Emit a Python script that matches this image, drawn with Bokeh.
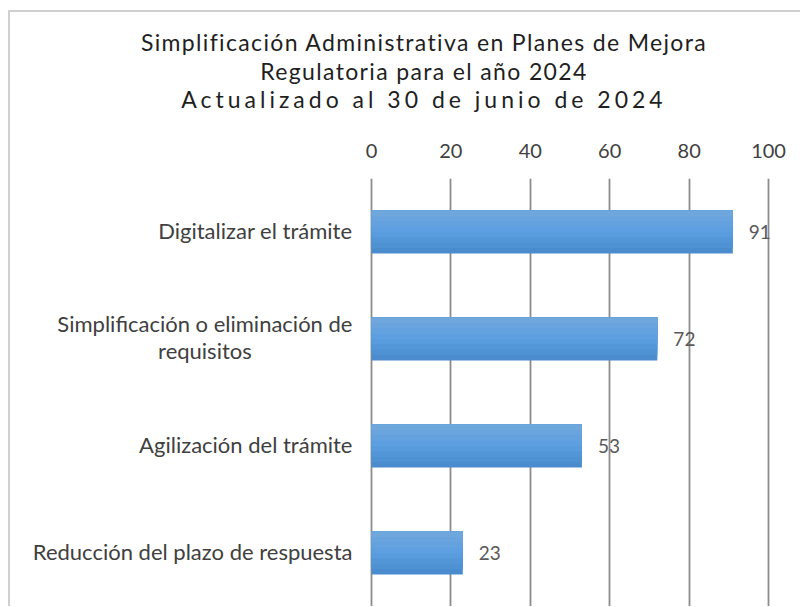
from bokeh.plotting import figure
from bokeh.models import Range1d, FixedTicker, ColumnDataSource, Div
from bokeh.layouts import column
from bokeh.core.properties import value
from bokeh.embed import file_html
from bokeh.resources import INLINE

# ---- data ----
title_lines = ["Simplificación Administrativa en Planes de Mejora",
               "Regulatoria para el año 2024",
               "Actualizado al 30 de junio de 2024"]
categories = ["Digitalizar el trámite",
              "Simplificación o eliminación de\nrequisitos",
              "Agilización del trámite",
              "Reducción del plazo de respuesta"]
values = [91, 72, 53, 23]
x_ticks = [0, 20, 40, 60, 80, 100]

FONT = "Lato"
positions = list(range(len(categories)))  # 0 = top row

# ---- figure (frame spans the label column too; labels sit left of x=0) ----
p = figure(width=790, height=482, output_backend="svg", toolbar_location=None,
           x_axis_location="above", y_axis_location=None,
           x_range=Range1d(-90.9, 102), y_range=Range1d(3.5, -0.5),
           min_border_left=0, min_border_right=24, min_border_top=54,
           min_border_bottom=0, tools="")
p.outline_line_color = None
p.background_fill_color = "white"
p.border_fill_color = "white"

ax = p.xaxis[0]
ax.ticker = FixedTicker(ticks=x_ticks)
ax.axis_line_color = None
ax.major_tick_line_color = None
ax.minor_tick_line_color = None
ax.major_tick_out = 0
ax.major_tick_in = 0
ax.major_label_standoff = 21
ax.major_label_text_font = FONT
ax.major_label_text_font_size = "20px"
ax.major_label_text_color = "#404040"

p.xgrid.ticker = FixedTicker(ticks=x_ticks)
p.xgrid.grid_line_color = "#8c8c8c"
p.xgrid.grid_line_width = 1.8
p.ygrid.grid_line_color = None

# ---- bars with a vertical gradient (layered, top lighter) ----
bar_h = 0.4
top_c = (0x72, 0xa8, 0xdd)
mid_c = (0x5a, 0x9e, 0xe0)
bot_c = (0x48, 0x8a, 0xcb)

def grad(t):
    if t < 0.5:
        a, b, u = top_c, mid_c, t / 0.5
    else:
        a, b, u = mid_c, bot_c, (t - 0.5) / 0.5
    return "#%02x%02x%02x" % tuple(int(round(a[i] + (b[i] - a[i]) * u)) for i in range(3))

N = 8
for k in range(N):
    frac = (N - k) / N
    length = bar_h * frac
    ys = [y - bar_h / 2 + length / 2 for y in positions]
    src = ColumnDataSource(dict(y=ys, right=values))
    p.hbar(y="y", left=0, right="right", height=length, source=src,
           fill_color=grad((N - k - 0.5) / N), line_color=None)

# ---- value labels ----
lab_src = ColumnDataSource(dict(x=values, y=positions, text=[str(v) for v in values]))
p.text(x="x", y="y", text="text", source=lab_src, x_offset=16,
       text_align="left", text_baseline="middle",
       text_font=value(FONT), text_font_size="19px", text_color="#595959")

# ---- category labels (block right-anchored, lines centred) ----
cat_src = ColumnDataSource(dict(x=[0] * len(categories), y=positions, text=categories))
p.text(x="x", y="y", text="text", source=cat_src, x_offset=-19, y_offset=-2,
       anchor="center_right", text_align="center", text_baseline="middle",
       text_font=value(FONT), text_font_size="22px", text_color="#404040",
       text_line_height=1.02)

# ---- title ----
title_html = (
    '<div style="font-family:Lato;font-size:23px;line-height:28.5px;color:#1f1f1f;'
    'text-align:center;padding:16px 0 0 38px;box-sizing:border-box;width:790px;">'
    f'<span style="letter-spacing:1.35px">{title_lines[0]}</span><br>'
    f'<span style="letter-spacing:1.35px">{title_lines[1]}</span><br>'
    f'<span style="letter-spacing:4px">{title_lines[2]}</span></div>'
)
div = Div(text=title_html, width=790, height=112, margin=0)

layout = column(div, p, margin=(10, 0, 0, 8),
                styles={"border-top": "2px solid #d0d0d0",
                        "border-left": "2px solid #d0d0d0"})

open("out.html", "w").write(file_html(layout, INLINE))
